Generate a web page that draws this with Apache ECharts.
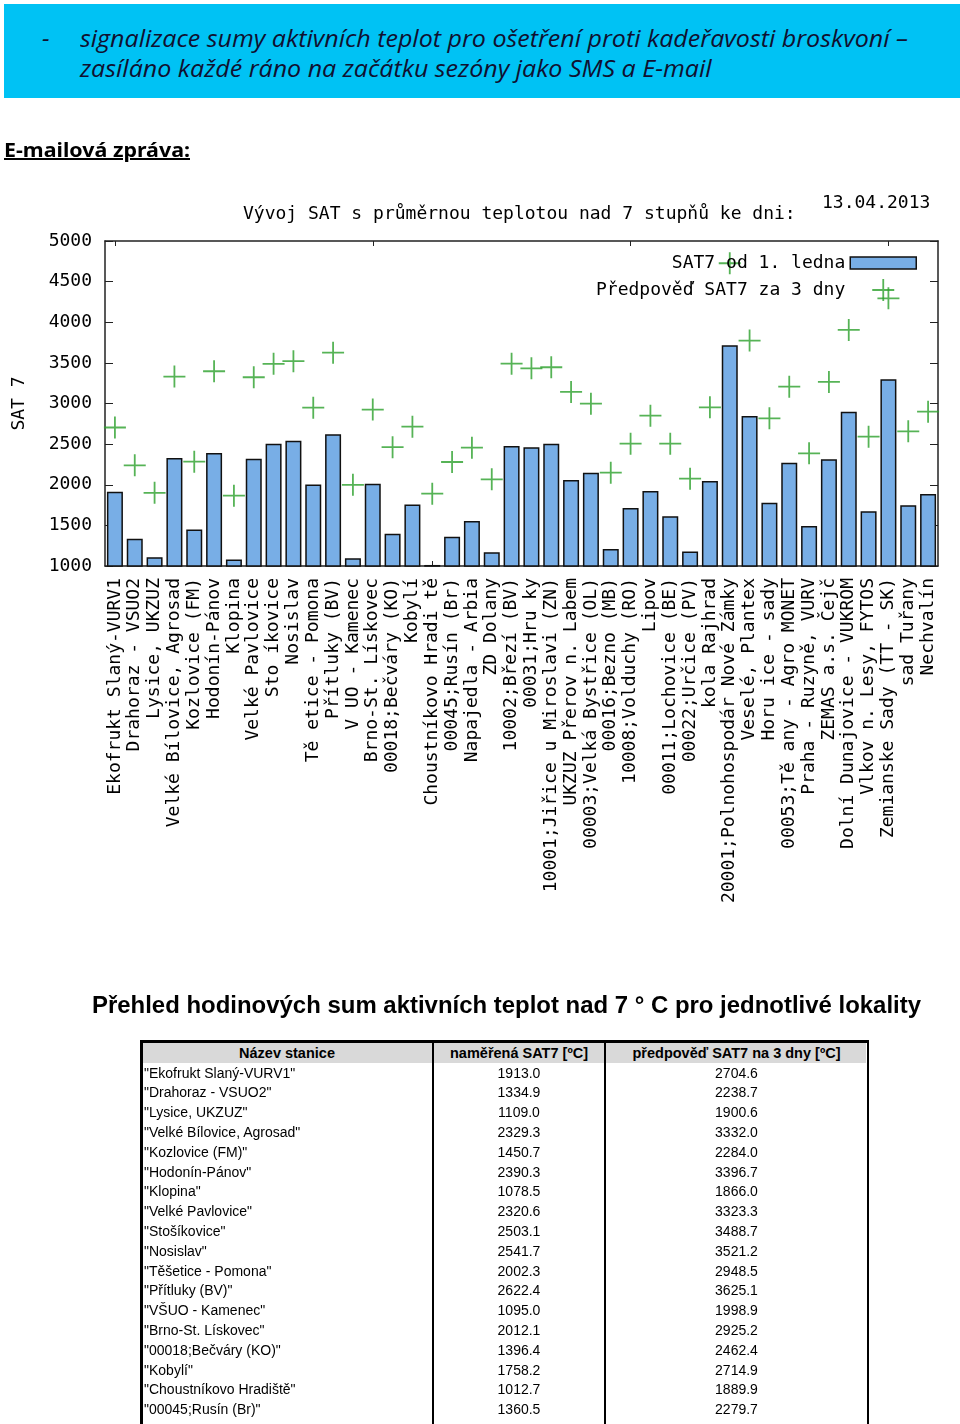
<!DOCTYPE html>
<html><head><meta charset="utf-8">
<script src="https://cdn.jsdelivr.net/npm/echarts@6/dist/echarts.min.js"></script>
<style>
html,body{margin:0;padding:0;background:#fff;}
body{width:960px;height:1424px;position:relative;overflow:hidden;}
#chart{position:absolute;left:0;top:0;width:960px;height:1424px;}
.abs{position:absolute;white-space:nowrap;}
#banner{position:absolute;left:4px;top:4px;width:956px;height:94px;background:#00c2f4;}
.hl{font-family:'Open Sans','Noto Sans',sans-serif;font-style:italic;font-size:24px;line-height:30px;color:#101030;display:inline-block;transform-origin:0 0;}
#mail{left:4px;top:140px;font-family:'Noto Sans',sans-serif;font-weight:bold;font-size:20px;line-height:20px;color:#000;text-decoration:underline;display:inline-block;transform-origin:0 0;}
#ttitle{left:92px;top:993px;font-family:'Liberation Sans',Arial,sans-serif;font-weight:bold;font-size:23.5px;line-height:24px;color:#000;display:inline-block;transform-origin:0 0;}
.cell{position:absolute;white-space:nowrap;font-family:'Liberation Sans',Arial,sans-serif;font-size:14px;color:#000;overflow:hidden;}
.hd{font-weight:bold;font-size:14.5px;}
.ln{position:absolute;background:#000;}
</style>
</head><body>
<div id="chart"></div>
<div id="banner"></div>
<div class="abs hl" style="left:42px;top:23px;">-</div>
<div class="abs hl" id="hl1" style="left:80px;top:23px;"></div>
<div class="abs hl" id="hl2" style="left:80px;top:53px;"></div>
<div class="abs" id="mail"></div>
<div class="abs" id="ttitle"></div>
<div id="tbl"></div>
<script>
// ---- texts ----
const headerLine1 = "signalizace sumy aktivních teplot pro ošetření proti kadeřavosti broskvoní –";
const headerLine2 = "zasíláno každé ráno na začátku sezóny jako SMS a E-mail";
const mailLabel = "E-mailová zpráva:";
const chartTitle = "Vývoj SAT s průměrnou teplotou nad 7 stupňů ke dni:";
const chartDate = "13.04.2013";
const axisName = "SAT 7";
const seriesNames = ["SAT7 od 1. ledna", "Předpověď SAT7 za 3 dny"];
const tableTitle = "Přehled hodinových sum aktivních teplot nad 7 ° C pro jednotlivé lokality";
const tableHeaders = ["Název stanice", "naměřená SAT7 [ºC]", "předpověď SAT7 na 3 dny [ºC]"];

// ---- chart categories (as printed under the chart) ----
const categories = [
"Ekofrukt Slaný-VURV1","Drahoraz - VSUO2","Lysice, UKZUZ","Velké Bílovice, Agrosad",
"Kozlovice (FM)","Hodonín-Pánov","Klopina","Velké Pavlovice","Sto íkovice","Nosislav",
"Tě etice - Pomona","Přítluky (BV)","V UO - Kamenec","Brno-St. Lískovec","00018;Bečváry (KO)",
"Kobylí","Choustníkovo Hradi tě","00045;Rusín (Br)","Napajedla - Arbia","ZD Dolany",
"10002;Březí (BV)","00031;Hru ky","10001;Jiřice u Miroslavi (ZN)","UKZUZ Přerov n. Labem",
"00003;Velká Bystřice (OL)","00016;Bezno (MB)","10008;Volduchy (RO)","Lipov",
"00011;Lochovice (BE)","00022;Určice (PV)","kola Rajhrad","20001;Polnohospodár Nové Zámky",
"Veselé, Plantex","Horu ice - sady","00053;Tě any - Agro MONET","Praha - Ruzyně, VURV",
"ZEMAS a.s. Čejč","Dolní Dunajovice - VUKROM","Vlkov n. Lesy, FYTOS","Zemianske Sady (TT - SK)",
"sad Tuřany","Nechvalín"
];

// ---- values ----
const measured = [1913.0,1334.9,1109.0,2329.3,1450.7,2390.3,1078.5,2320.6,2503.1,2541.7,
2002.3,2622.4,1095.0,2012.1,1396.4,1758.2,1012.7,1360.5,1554,1169,
2477,2461,2506,2059,2149,1209,1714,1923,1611,1180,
2046,3717,2846,1780,2272,1492,2313,2900,1673,3298,1747,1886];
const forecast = [2704.6,2238.7,1900.6,3332.0,2284.0,3396.7,1866.0,3323.3,3488.7,3521.2,
2948.5,3625.1,1998.9,2925.2,2462.4,2714.9,1889.9,2279.7,2456,2067,
3490,3433,3446,3142,2998,2149,2506,2850,2506,2075,
2953,4726,3774,2818,3207,2387,3265,3905,2592,4295,2658,2900];

// ---- table station names (proper spelling, visible rows) ----
const tableNames = ["Ekofrukt Slaný-VURV1","Drahoraz - VSUO2","Lysice, UKZUZ","Velké Bílovice, Agrosad",
"Kozlovice (FM)","Hodonín-Pánov","Klopina","Velké Pavlovice","Stošíkovice","Nosislav",
"Těšetice - Pomona","Přítluky (BV)","VŠUO - Kamenec","Brno-St. Lískovec","00018;Bečváry (KO)",
"Kobylí","Choustníkovo Hradiště","00045;Rusín (Br)"];

// ---- HTML texts ----
document.getElementById('hl1').textContent = headerLine1;
document.getElementById('hl2').textContent = headerLine2;
document.getElementById('mail').textContent = mailLabel;
document.getElementById('ttitle').textContent = tableTitle;

function fit(id, w, ref){
  const el = document.getElementById(id);
  const base = ref ? document.getElementById(ref) : el;
  base.style.transform = 'none';
  const r = base.getBoundingClientRect().width;
  const s = w / r;
  el.style.transform = 'scaleX(' + s + ')';
  if (ref) base.style.transform = 'scaleX(' + s + ')';
}
function doFit(){
  fit('hl2', 828, 'hl1');
  fit('hl1', 828);
  fit('mail', 186);
  fit('ttitle', 829);
}

// ---- table ----
const tbl = document.getElementById('tbl');
const colX = [141, 433, 605, 868];
function addDiv(cls, style, text){
  const d = document.createElement('div');
  d.className = cls; d.setAttribute('style', style);
  if (text !== undefined) d.textContent = text;
  tbl.appendChild(d); return d;
}
addDiv('ln', 'left:143px;top:1043px;width:723px;height:20px;background:#d9d9d9;');
tableHeaders.forEach((h, c) => {
  addDiv('cell hd', `left:${colX[c]}px;top:1043px;width:${colX[c+1]-colX[c]}px;height:20px;line-height:20px;text-align:center;`, h);
});
const rowH = 19.8, row0 = 1063.5;
for (let i = 0; i < tableNames.length; i++) {
  const t = row0 + rowH * i;
  addDiv('cell', `left:${colX[0]+3}px;top:${t}px;width:${colX[1]-colX[0]-4}px;height:${rowH}px;line-height:${rowH}px;text-align:left;`, '"' + tableNames[i] + '"');
  addDiv('cell', `left:${colX[1]}px;top:${t}px;width:${colX[2]-colX[1]}px;height:${rowH}px;line-height:${rowH}px;text-align:center;`, measured[i].toFixed(1));
  addDiv('cell', `left:${colX[2]}px;top:${t}px;width:${colX[3]-colX[2]}px;height:${rowH}px;line-height:${rowH}px;text-align:center;`, forecast[i].toFixed(1));
}
addDiv('ln', 'left:140px;top:1040px;width:729px;height:3px;');
addDiv('ln', 'left:140px;top:1040px;width:3px;height:400px;');
addDiv('ln', 'left:432px;top:1040px;width:1.6px;height:400px;');
addDiv('ln', 'left:604px;top:1040px;width:1.6px;height:400px;');
addDiv('ln', 'left:866.5px;top:1040px;width:2px;height:400px;');

doFit();
if (document.fonts && document.fonts.ready) document.fonts.ready.then(doFit);

// ---- chart ----
const MONO = "'DejaVu Sans Mono', monospace";
const crossPath = 'path://M10.1,0H11.9V10.1H22V11.9H11.9V22H10.1V11.9H0V10.1H10.1Z';
const frame = {show:true, lineStyle:{color:'#222', width:1.5}};
const txt = {fontFamily:MONO, fontSize:18, color:'#000', fontWeight:'normal'};
const chart = echarts.init(document.getElementById('chart'), null, {renderer:'canvas'});
chart.setOption({
  animation:false,
  title:[
    {text:chartTitle, left:243, top:205, padding:0, textStyle:Object.assign({lineHeight:18}, txt)},
    {text:chartDate, left:822, top:194, padding:0, textStyle:Object.assign({lineHeight:18}, txt)}
  ],
  legend:{
    orient:'vertical', right:43, top:254, padding:0, align:'right',
    itemWidth:66, itemHeight:22, itemGap:7, symbolKeepAspect:true, selectedMode:false,
    textStyle:txt,
    data:[
      {name:seriesNames[0], icon:'path://M0,0H66V12H0Z', itemStyle:{color:'#78aee6', borderColor:'#111', borderWidth:1.5}},
      {name:seriesNames[1], icon:crossPath, itemStyle:{color:'#2ca02c', borderWidth:0}}
    ]
  },
  grid:{left:105, right:22, top:241, bottom:858, outerBoundsMode:'none', containLabel:false},
  xAxis:[
    {type:'category', data:categories, position:'bottom', boundaryGap:true,
     axisLine:frame, axisTick:{show:true, inside:true, alignWithLabel:true, length:5, lineStyle:{color:'#222'}},
     axisLabel:Object.assign({interval:0, rotate:90, margin:12, hideOverlap:false}, txt),
     splitLine:{show:false}},
    {type:'category', data:categories, position:'top', boundaryGap:true,
     axisLine:frame, axisTick:{show:true, inside:true, alignWithLabel:true, length:5, lineStyle:{color:'#222'}},
     axisLabel:{show:false}, splitLine:{show:false}}
  ],
  yAxis:[
    {type:'value', min:1000, max:5000, interval:500, position:'left',
     name:axisName, nameLocation:'middle', nameRotate:90, nameGap:77, nameTextStyle:txt,
     axisLine:frame, axisTick:{show:true, inside:true, length:8, lineStyle:{color:'#222'}},
     axisLabel:Object.assign({margin:13, formatter:v => String(v)}, txt), splitLine:{show:false}},
    {type:'value', min:1000, max:5000, interval:500, position:'right',
     axisLine:frame, axisTick:{show:true, inside:true, length:8, lineStyle:{color:'#222'}},
     axisLabel:{show:false}, splitLine:{show:false}}
  ],
  series:[
    {name:seriesNames[0], type:'bar', data:measured, barWidth:16, xAxisIndex:0, yAxisIndex:0,
     itemStyle:{color:'#78aee6', borderColor:'#111', borderWidth:1.5}},
    {name:seriesNames[1], type:'scatter', data:forecast, symbol:crossPath, symbolSize:22, xAxisIndex:0, yAxisIndex:0,
     itemStyle:{color:'#2ca02c'}, z:3}
  ]
});
</script>
</body></html>
